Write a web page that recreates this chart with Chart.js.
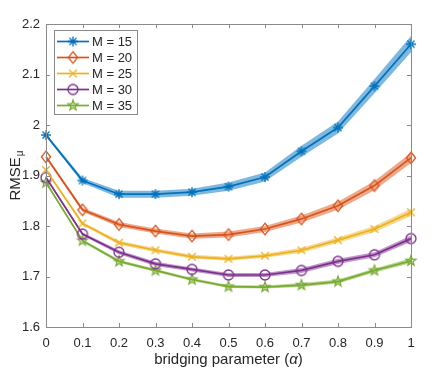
<!DOCTYPE html>
<html>
<head>
<meta charset="utf-8">
<script src="https://cdn.jsdelivr.net/npm/chart.js@4/dist/chart.umd.min.js"></script>
<style>
html,body{margin:0;padding:0;background:#fff;}
#wrap{width:436px;height:374px;}
</style>
</head>
<body>
<div id="wrap"><canvas id="c" width="436" height="374"></canvas></div>
<script>
// ---------- data ----------
const alphaValues = [0, 0.1, 0.2, 0.3, 0.4, 0.5, 0.6, 0.7, 0.8, 0.9, 1];
const seriesLabels = ['M = 15', 'M = 20', 'M = 25', 'M = 30', 'M = 35'];
const rmseM15 = [1.980, 1.890, 1.863, 1.863, 1.867, 1.878, 1.897, 1.948, 1.995, 2.077, 2.160];
const rmseM20 = [1.937, 1.832, 1.803, 1.790, 1.780, 1.783, 1.794, 1.814, 1.840, 1.880, 1.935];
const rmseM25 = [1.911, 1.805, 1.767, 1.752, 1.739, 1.735, 1.741, 1.752, 1.772, 1.794, 1.827];
const rmseM30 = [1.896, 1.784, 1.748, 1.725, 1.714, 1.703, 1.703, 1.712, 1.730, 1.743, 1.775];
const rmseM35 = [1.886, 1.771, 1.730, 1.712, 1.694, 1.680, 1.679, 1.683, 1.690, 1.712, 1.731];
// half-widths of the shaded bands
const bandM15 = [0.003, 0.005, 0.007, 0.007, 0.007, 0.008, 0.009, 0.011, 0.012, 0.014, 0.016];
const bandM20 = [0.003, 0.004, 0.005, 0.005, 0.005, 0.006, 0.006, 0.007, 0.008, 0.009, 0.010];
const bandM25 = [0.002, 0.003, 0.004, 0.004, 0.004, 0.004, 0.004, 0.005, 0.005, 0.006, 0.007];
const bandM30 = [0.002, 0.003, 0.004, 0.004, 0.004, 0.004, 0.004, 0.005, 0.005, 0.005, 0.006];
const bandM35 = [0.002, 0.003, 0.003, 0.003, 0.003, 0.003, 0.003, 0.004, 0.004, 0.004, 0.005];
const xTicks = [0, 0.1, 0.2, 0.3, 0.4, 0.5, 0.6, 0.7, 0.8, 0.9, 1];
const yTicks = [1.6, 1.7, 1.8, 1.9, 2.0, 2.1, 2.2];

const seriesValues = [rmseM15, rmseM20, rmseM25, rmseM30, rmseM35];
const seriesBands = [bandM15, bandM20, bandM25, bandM30, bandM35];
const colors = ['#0072BD', '#D95319', '#EDB120', '#7E2F8E', '#77AC30'];
const bandColors = ['rgba(0,114,189,0.5)', 'rgba(217,83,25,0.5)', 'rgba(237,177,32,0.5)', 'rgba(126,47,142,0.5)', 'rgba(119,172,48,0.5)'];
const markerTypes = ['asterisk', 'diamond', 'xmark', 'circle', 'pentagram'];

function makeMarker(type, color) {
  const cv = document.createElement('canvas');
  cv.width = 16; cv.height = 16;
  const g = cv.getContext('2d');
  g.strokeStyle = color; g.lineWidth = 1.3; g.lineJoin = 'miter';
  const c = 8;
  g.beginPath();
  if (type === 'asterisk') {
    const r = 5, d = r * 0.707;
    g.moveTo(c - r, c); g.lineTo(c + r, c);
    g.moveTo(c, c - r); g.lineTo(c, c + r);
    g.moveTo(c - d, c - d); g.lineTo(c + d, c + d);
    g.moveTo(c - d, c + d); g.lineTo(c + d, c - d);
  } else if (type === 'diamond') {
    const w = 4.6, h = 5.8;
    g.moveTo(c, c - h); g.lineTo(c + w, c); g.lineTo(c, c + h); g.lineTo(c - w, c); g.closePath();
  } else if (type === 'xmark') {
    const d = 3.8;
    g.moveTo(c - d, c - d); g.lineTo(c + d, c + d);
    g.moveTo(c - d, c + d); g.lineTo(c + d, c - d);
  } else if (type === 'circle') {
    g.arc(c, c, 5, 0, Math.PI * 2);
  } else if (type === 'pentagram') {
    const ro = 5.2, ri = 2.1;
    for (let i = 0; i < 10; i++) {
      const r = i % 2 === 0 ? ro : ri;
      const a = -Math.PI / 2 + i * Math.PI / 5;
      const px = c + r * Math.cos(a), py = c + r * Math.sin(a);
      if (i === 0) g.moveTo(px, py); else g.lineTo(px, py);
    }
    g.closePath();
  }
  g.stroke();
  return cv;
}
const markers = markerTypes.map((t, i) => makeMarker(t, colors[i]));

// ---------- datasets ----------
const datasets = [];
seriesValues.forEach((vals, i) => {
  const band = seriesBands[i];
  datasets.push({
    label: '_lo' + i,
    data: alphaValues.map((a, k) => ({ x: a, y: vals[k] - band[k] })),
    borderWidth: 0, pointRadius: 0, fill: false, order: 2, clip: false,
    borderColor: 'rgba(0,0,0,0)'
  });
  datasets.push({
    label: '_hi' + i,
    data: alphaValues.map((a, k) => ({ x: a, y: vals[k] + band[k] })),
    borderWidth: 0, pointRadius: 0, fill: '-1', backgroundColor: bandColors[i], order: 2, clip: false,
    borderColor: 'rgba(0,0,0,0)'
  });
});
seriesValues.forEach((vals, i) => {
  datasets.push({
    label: seriesLabels[i],
    isMain: true,
    markerIndex: i,
    data: alphaValues.map((a, k) => ({ x: a, y: vals[k] })),
    borderColor: colors[i], backgroundColor: colors[i],
    borderWidth: 1.7, pointStyle: markers[i], pointRadius: 5, fill: false,
    order: 1, clip: false, tension: 0
  });
});

const AXIS = '#8a8a8a';
const TEXT = '#262626';
const FONT = '"Liberation Sans", Arial, Helvetica, sans-serif';

const axesPlugin = {
  id: 'matlabAxes',
  beforeDatasetsDraw(chart) {
    const { ctx, chartArea: a } = chart;
    ctx.save();
    ctx.fillStyle = '#fff';
    ctx.fillRect(a.left, a.top, a.right - a.left, a.bottom - a.top);
    ctx.restore();
  },
  afterDraw(chart) {
    const { ctx, chartArea: a, scales } = chart;
    ctx.save();
    ctx.strokeStyle = AXIS; ctx.lineWidth = 1;
    ctx.strokeRect(Math.round(a.left) + 0.5, Math.round(a.top) + 0.5, Math.round(a.right - a.left), Math.round(a.bottom - a.top));
    const tl = 4;
    ctx.beginPath();
    xTicks.forEach(v => {
      const px = Math.round(scales.x.getPixelForValue(v)) + 0.5;
      ctx.moveTo(px, a.bottom); ctx.lineTo(px, a.bottom - tl);
      ctx.moveTo(px, a.top); ctx.lineTo(px, a.top + tl);
    });
    yTicks.forEach(v => {
      const py = Math.round(scales.y.getPixelForValue(v)) + 0.5;
      ctx.moveTo(a.left, py); ctx.lineTo(a.left + tl, py);
      ctx.moveTo(a.right, py); ctx.lineTo(a.right - tl, py);
    });
    ctx.stroke();

    // x axis title
    ctx.fillStyle = TEXT;
    ctx.textBaseline = 'alphabetic';
    const fs = 15;
    const p1 = 'bridging parameter (', p2 = '\u03B1', p3 = ')';
    ctx.font = fs + 'px ' + FONT;
    const w1 = ctx.measureText(p1).width, w3 = ctx.measureText(p3).width;
    ctx.font = 'italic ' + fs + 'px ' + FONT;
    const w2 = ctx.measureText(p2).width;
    const total = w1 + w2 + w3;
    let sx = (a.left + a.right) / 2 - total / 2;
    const by = 364;
    ctx.font = fs + 'px ' + FONT; ctx.textAlign = 'left';
    ctx.fillText(p1, sx, by);
    ctx.font = 'italic ' + fs + 'px ' + FONT;
    ctx.fillText(p2, sx + w1, by);
    ctx.font = fs + 'px ' + FONT;
    ctx.fillText(p3, sx + w1 + w2, by);

    // y axis title: RMSE with subscript mu
    ctx.save();
    ctx.font = fs + 'px ' + FONT;
    const wr = ctx.measureText('RMSE').width;
    ctx.font = '10px ' + FONT;
    const wm = ctx.measureText('\u03BC').width;
    const cy = (a.top + a.bottom) / 2;
    ctx.translate(20, cy + (wr + wm + 1) / 2);
    ctx.rotate(-Math.PI / 2);
    ctx.textAlign = 'left';
    ctx.font = fs + 'px ' + FONT;
    ctx.fillText('RMSE', 0, 0);
    ctx.font = '10px ' + FONT;
    ctx.fillText('\u03BC', wr + 1, 3);
    ctx.restore();

    // legend
    const lx = 54, ly = 30, lw = 83, lh = 84;
    ctx.fillStyle = '#fff';
    ctx.fillRect(lx, ly, lw, lh);
    ctx.strokeStyle = AXIS; ctx.lineWidth = 1;
    ctx.strokeRect(lx + 0.5, ly + 0.5, lw, lh);
    const mains = chart.data.datasets.filter(d => d.isMain);
    mains.forEach((d, i) => {
      const yy = 41.5 + i * 16;
      ctx.strokeStyle = d.borderColor; ctx.lineWidth = 1.7;
      ctx.beginPath(); ctx.moveTo(57, yy); ctx.lineTo(89, yy); ctx.stroke();
      const m = markers[d.markerIndex];
      ctx.drawImage(m, 73 - m.width / 2, yy - m.height / 2);
      ctx.fillStyle = TEXT;
      ctx.font = '13px ' + FONT;
      ctx.textBaseline = 'middle';
      ctx.textAlign = 'left';
      ctx.fillText(d.label, 92, yy + 0.5);
    });
    ctx.restore();
  }
};

new Chart(document.getElementById('c'), {
  type: 'line',
  data: { datasets },
  options: {
    responsive: false,
    animation: false,
    devicePixelRatio: 1,
    layout: { padding: { top: 24, right: 25, left: 0, bottom: 0 } },
    plugins: { legend: { display: false }, tooltip: { enabled: false } },
    elements: { line: { tension: 0 } },
    scales: {
      x: {
        type: 'linear', min: 0, max: 1,
        grid: { display: false, drawTicks: false },
        border: { display: false },
        afterFit(s) { s.height = 47; },
        afterBuildTicks(s) { s.ticks = xTicks.map(v => ({ value: v })); },
        ticks: {
          padding: 9, color: TEXT, font: { size: 13, family: FONT },
          maxRotation: 0, autoSkip: false,
          callback: v => String(+v.toFixed(1))
        }
      },
      y: {
        type: 'linear', min: 1.6, max: 2.2,
        grid: { display: false, drawTicks: false },
        border: { display: false },
        afterFit(s) { s.width = 46; },
        afterBuildTicks(s) { s.ticks = yTicks.map(v => ({ value: v })); },
        ticks: {
          padding: 6, color: TEXT, font: { size: 13, family: FONT },
          autoSkip: false,
          callback: v => String(+v.toFixed(1))
        }
      }
    }
  },
  plugins: [axesPlugin]
});
</script>
</body>
</html>
